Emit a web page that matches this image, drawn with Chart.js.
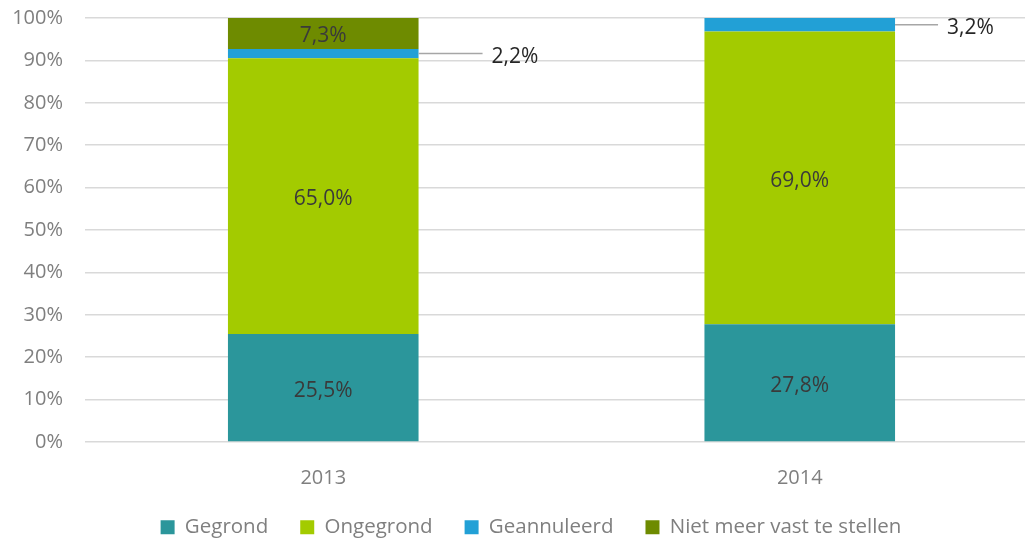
<!DOCTYPE html>
<html>
<head>
<meta charset="utf-8">
<script src="https://cdn.jsdelivr.net/npm/chart.js@4/dist/chart.umd.min.js"></script>
<style>
  html, body { margin: 0; padding: 0; background: #fff; overflow: hidden; }
  #wrap { position: relative; width: 1038px; height: 540px; }
</style>
</head>
<body>
<div id="wrap"><canvas id="myChart"></canvas></div>
<script>
const years = ["2013", "2014"];
const gegrond = [25.5, 27.8];
const ongegrond = [65.0, 69.0];
const geannuleerd = [2.2, 3.2];
const nietMeer = [7.3, 0];

const yTicks = [0, 10, 20, 30, 40, 50, 60, 70, 80, 90, 100];

const FONT = "'Open Sans', 'Liberation Sans', sans-serif";

// formats 25.5 as "25,5%"
const pct = (v) => v.toFixed(1).replace('.', ',') + '%';

/**
 * Draws the value inside each segment. Segments that are too thin get
 * their label outside the bar, connected by a short grey line.
 */
const valueLabels = {
  id: 'valueLabels',
  afterDatasetsDraw(chart, args, opts) {
    const ctx = chart.ctx;
    ctx.save();
    ctx.font = '21px ' + FONT;
    ctx.textBaseline = 'middle';
    chart.data.datasets.forEach((ds, di) => {
      const meta = chart.getDatasetMeta(di);
      meta.data.forEach((bar, i) => {
        const v = ds.data[i];
        if (!v) return;
        const midY = (bar.y + bar.base) / 2;
        // the font sits a little high with a middle baseline
        const textY = midY + 3;
        if (v < 5) {
          const right = bar.x + bar.width / 2;
          const len = opts.leader[i];
          ctx.strokeStyle = '#a6a6a6';
          ctx.lineWidth = 1.5;
          ctx.beginPath();
          ctx.moveTo(right, midY);
          ctx.lineTo(right + len, midY);
          ctx.stroke();
          ctx.fillStyle = '#262626';
          ctx.textAlign = 'left';
          ctx.fillText(pct(v), right + len + 9, textY);
        } else {
          ctx.fillStyle = '#3a3a3a';
          ctx.textAlign = 'center';
          ctx.fillText(pct(v), bar.x, textY);
        }
      });
    });
    ctx.restore();
  }
};

// keeps the legend strip at a fixed height and nudges it sideways
const legendBox = {
  id: 'legendBox',
  beforeLayout(chart, args, opts) {
    const legend = chart.legend;
    if (!legend || legend._fixedFit) return;
    const fit = legend.fit;
    legend.fit = function () {
      fit.call(this);
      this.height = opts.height;
    };
    legend._fixedFit = true;
  },
  afterLayout(chart, args, opts) {
    const legend = chart.legend;
    if (!legend) return;
    legend.left += opts.shift;
    legend.right += opts.shift;
  }
};

const context = document.getElementById('myChart').getContext('2d');
const myChart = new Chart(context, {
  type: 'bar',
  data: {
    labels: years,
    datasets: [
      { label: 'Gegrond', data: gegrond, backgroundColor: '#2b969b' },
      { label: 'Ongegrond', data: ongegrond, backgroundColor: '#a3cb00' },
      { label: 'Geannuleerd', data: geannuleerd, backgroundColor: '#22a0d6' },
      { label: 'Niet meer vast te stellen', data: nietMeer, backgroundColor: '#6e8b00' }
    ]
  },
  options: {
    responsive: true,
    maintainAspectRatio: false,
    animation: false,
    layout: { padding: { top: 18, left: 0, right: 0, bottom: 0 } },
    datasets: { bar: { barPercentage: 0.4, categoryPercentage: 1 } },
    scales: {
      x: {
        stacked: true,
        grid: { display: false },
        border: { display: false },
        ticks: { color: '#7f7f7f', font: { family: FONT, size: 20 }, padding: 16 },
        afterFit: (axis) => { axis.height = 43; }
      },
      y: {
        stacked: true,
        min: 0,
        max: 100,
        afterBuildTicks: (axis) => { axis.ticks = yTicks.map(v => ({ value: v })); },
        afterFit: (axis) => { axis.width = 85; axis.paddingTop = 0; axis.paddingBottom = 0; },
        grid: { color: '#d9d9d9', lineWidth: 1.5, drawTicks: false },
        border: { display: false },
        ticks: {
          color: '#7f7f7f',
          font: { family: FONT, size: 20 },
          padding: 22,
          callback: (v) => v + '%'
        }
      }
    },
    plugins: {
      legend: {
        position: 'bottom',
        labels: {
          color: '#7f7f7f',
          font: { family: FONT, size: 20.5 },
          boxWidth: 14,
          boxHeight: 14,
          padding: 32
        }
      },
      legendBox: { height: 55, shift: 12 },
      tooltip: { enabled: false },
      valueLabels: { leader: [64, 43] }
    }
  },
  plugins: [valueLabels, legendBox]
});
</script>
</body>
</html>
